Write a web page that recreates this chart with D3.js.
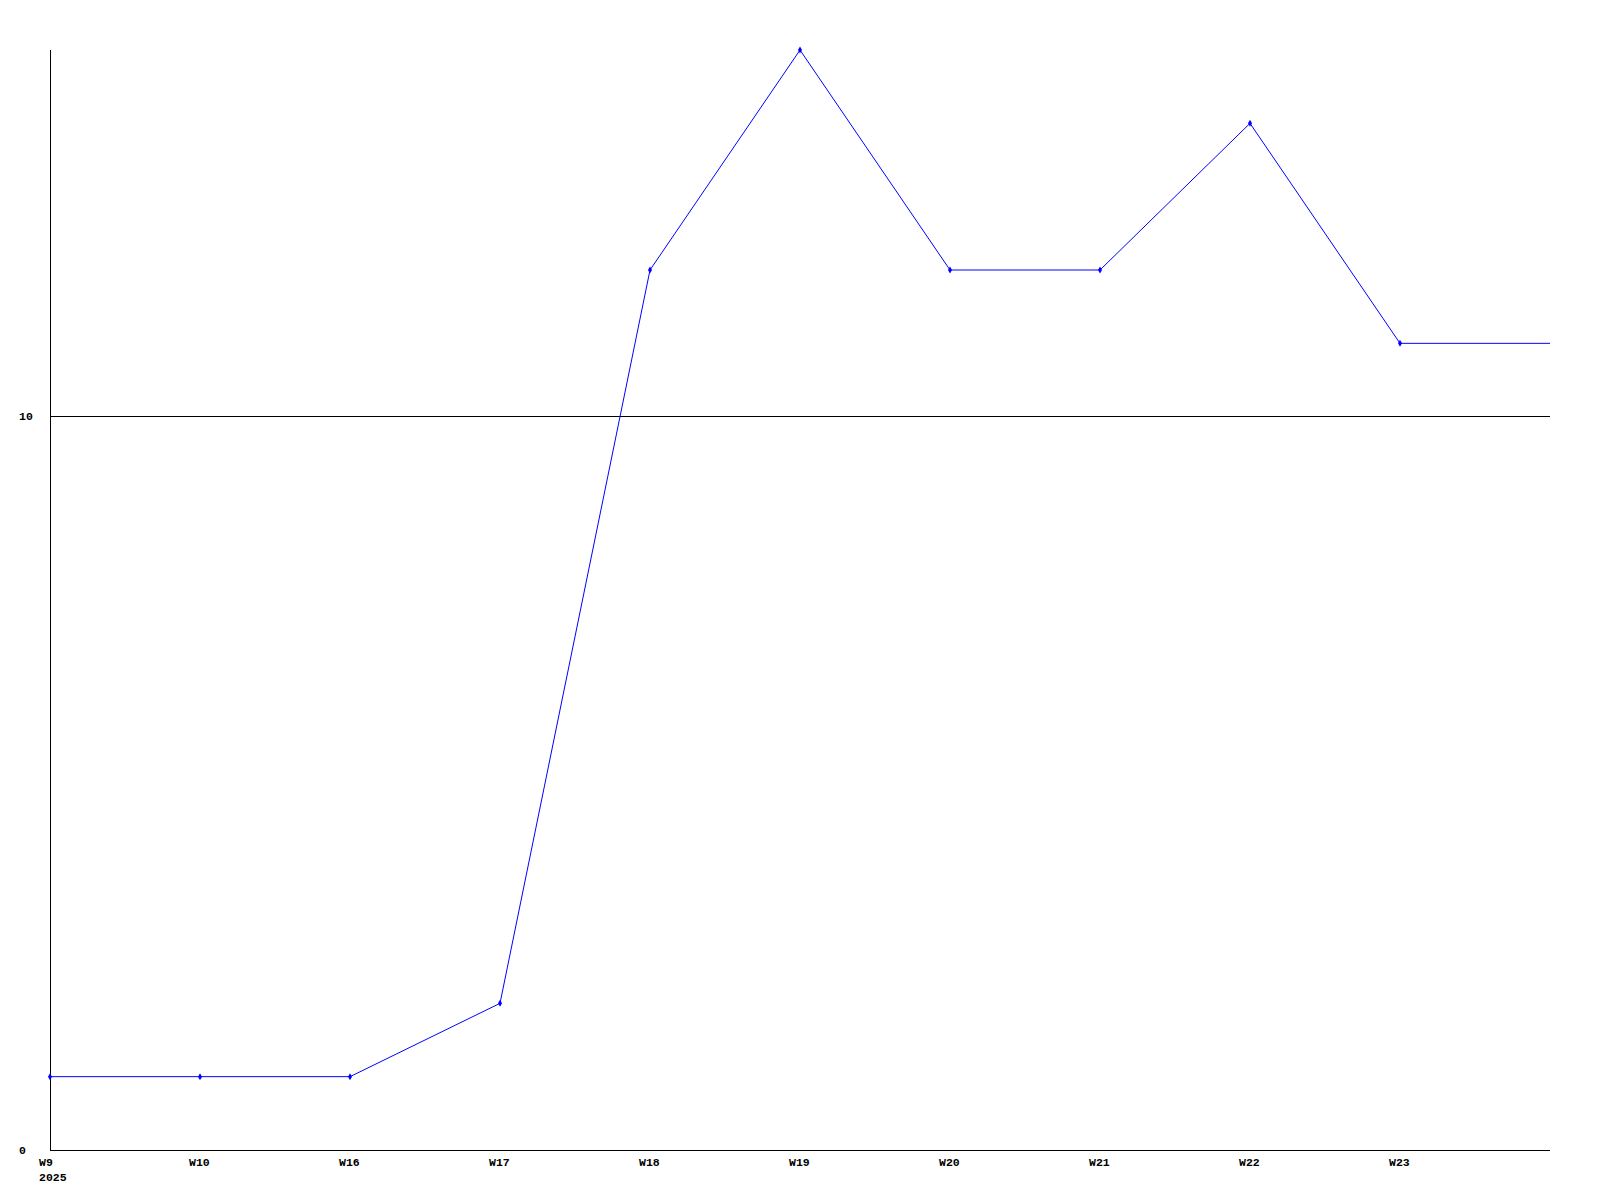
<!DOCTYPE html>
<html><head><meta charset="utf-8">
<script src="https://cdn.jsdelivr.net/npm/d3@7"></script>
<style>
html,body{margin:0;padding:0;background:#fff;}
text{font-family:"Liberation Mono","DejaVu Sans Mono",monospace;font-weight:bold;font-size:11.5px;fill:#000;}
</style></head>
<body>
<script>
const categories = ["W9","W10","W16","W17","W18","W19","W20","W21","W22","W23"];
const values = [1,1,1,2,12,15,12,12,14,11];
const yTicks = [0,10];
const yearLabel = "2025";

const W = 1600, H = 1200;
const svg = d3.select("body").append("svg").attr("width", W).attr("height", H);

const x = d3.scaleLinear().domain([0, categories.length]).range([50, 1550]);
const y = d3.scaleLinear().domain([0, 15]).range([1150, 50]);

// grid / axes
svg.append("g").selectAll("line").data(yTicks.filter(d => d > 0)).join("line")
  .attr("x1", 50).attr("x2", 1550).attr("y1", d => Math.floor(y(d)) + 0.5).attr("y2", d => Math.floor(y(d)) + 0.5)
  .attr("stroke", "#000").attr("stroke-width", 1).attr("shape-rendering", "crispEdges");
svg.append("line").attr("x1", 50.5).attr("x2", 50.5).attr("y1", 50).attr("y2", 1150)
  .attr("stroke", "#000").attr("shape-rendering", "crispEdges");
svg.append("line").attr("x1", 50).attr("x2", 1550).attr("y1", 1150.5).attr("y2", 1150.5)
  .attr("stroke", "#000").attr("shape-rendering", "crispEdges");

// y labels
svg.append("g").selectAll("text").data(yTicks).join("text")
  .attr("x", 19).attr("y", d => Math.floor(y(d)) + 4).text(d => d);

// x labels
svg.append("g").selectAll("text").data(categories).join("text")
  .attr("x", (d, i) => x(i) - 11).attr("y", 1166).text(d => d);
svg.append("text").attr("x", x(0) - 11).attr("y", 1181).text(yearLabel);

// line (extends last value to right edge)
const pts = values.map((v, i) => [x(i), y(v)]);
pts.push([x(categories.length), y(values[values.length - 1])]);
svg.append("path").attr("d", d3.line()(pts))
  .attr("fill", "none").attr("stroke", "#0000ff").attr("stroke-width", 1);

// markers
svg.append("g").selectAll("path").data(values).join("path")
  .attr("transform", (d, i) => `translate(${x(i)},${y(d)})`)
  .attr("d", d3.symbol().type(d3.symbolDiamond).size(14))
  .attr("fill", "#0000ff");
</script>
</body></html>
